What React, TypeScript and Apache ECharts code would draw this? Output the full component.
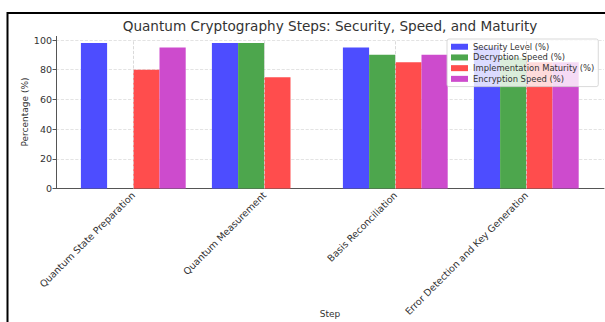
import React, { useEffect, useRef } from "react";
import * as echarts from "echarts";

const categories = [
  "Quantum State Preparation",
  "Quantum Measurement",
  "Basis Reconciliation",
  "Error Detection and Key Generation",
];
const securityLevel = [98, 98, 95, 95];
const decryptionSpeed: (number | string)[] = ["-", 98, 90, 88];
const implementationMaturity = [80, 75, 85, 85];
const encryptionSpeed: (number | string)[] = [95, "-", 90, 85];
const seriesNames = [
  "Security Level (%)",
  "Decryption Speed (%)",
  "Implementation Maturity (%)",
  "Encryption Speed (%)",
];
const seriesColors = ["#4d4dff", "#4da64d", "#ff4d4d", "#cd4bcd"];
const yMin = 0;
const yMax = 100;
const yInterval = 20;

const FONT = "DejaVu Sans";
const FONT_STACK = "'DejaVu Sans', 'Liberation Sans', sans-serif";

export default function App() {
  const ref = useRef<HTMLDivElement>(null);
  useEffect(() => {
    if (!ref.current) return;
    const chart = echarts.init(ref.current, undefined, { renderer: "svg" });
    const values = [securityLevel, decryptionSpeed, implementationMaturity, encryptionSpeed];
    const gridTop = 40;
    const gridHeight = 148.5;
    const barSeries = seriesNames.map((name, i) => ({
      name,
      type: "bar",
      xAxisIndex: 0,
      yAxisIndex: 0,
      z: 3,
      data: values[i],
      barWidth: 26.2,
      barGap: "0%",
      itemStyle: { color: seriesColors[i] },
    }));
    chart.setOption({
      animation: false,
      backgroundColor: "#fff",
      textStyle: { fontFamily: FONT_STACK },
      grid: [
        { left: 67.8, width: 524, top: gridTop, height: gridHeight },
        { left: 56, width: 548, top: gridTop, height: gridHeight },
      ],
      xAxis: [
        {
          gridIndex: 0,
          type: "category",
          data: categories,
          axisLine: { show: false },
          axisTick: { show: false },
          splitLine: { show: false },
          axisLabel: {
            interval: 0,
            rotate: 45,
            fontSize: 9.5,
            margin: 5,
            color: "#333",
            fontFamily: FONT_STACK,
          },
        },
        {
          gridIndex: 1,
          type: "value",
          min: 0,
          max: 1,
          axisLine: { show: true, lineStyle: { color: "#555", width: 1 } },
          axisTick: { show: false },
          axisLabel: { show: false },
          splitLine: { show: false },
        },
      ],
      yAxis: [
        { gridIndex: 0, type: "value", min: yMin, max: yMax, show: false },
        {
          gridIndex: 1,
          type: "value",
          min: yMin,
          max: yMax,
          interval: yInterval,
          axisLine: { show: true, lineStyle: { color: "#555", width: 1 } },
          axisTick: { show: true, length: 3.5, lineStyle: { color: "#555" } },
          axisLabel: { fontSize: 9.5, color: "#333", margin: 4, fontFamily: FONT_STACK },
          splitLine: {
            show: true,
            lineStyle: { type: "dashed", color: "#dcdcdc", width: 0.8 },
          },
        },
      ],
      legend: {
        orient: "vertical",
        left: 447,
        top: 39,
        data: seriesNames,
        icon: "rect",
        itemWidth: 17,
        itemHeight: 6,
        itemGap: 1.2,
        padding: [3, 4, 3, 4],
        backgroundColor: "rgba(255,255,255,0.8)",
        borderColor: "#cfcfcf",
        borderWidth: 0.8,
        borderRadius: 2,
        textStyle: {
          fontSize: 8.4,
          lineHeight: 9.5,
          color: "#333",
          fontFamily: FONT_STACK,
          fontWeight: "normal",
        },
      },
      graphic: [
        {
          type: "rect",
          shape: { x: 7.5, y: 13, width: 700, height: 400 },
          style: { fill: "none", stroke: "#000", lineWidth: 2 },
          silent: true,
        },
        {
          type: "line",
          shape: { x1: 56.5, y1: 36, x2: 56.5, y2: 40 },
          style: { stroke: "#555", lineWidth: 1 },
          silent: true,
        },
        {
          type: "text",
          x: 330,
          y: 26,
          style: {
            text: "Quantum Cryptography Steps: Security, Speed, and Maturity",
            textAlign: "center",
            textVerticalAlign: "middle",
            font: `13.6px '${FONT}'`,
            fill: "#333",
          },
        },
        {
          type: "text",
          x: 25,
          y: 112,
          rotation: Math.PI / 2,
          style: {
            text: "Percentage (%)",
            textAlign: "center",
            textVerticalAlign: "middle",
            font: `9px '${FONT}'`,
            fill: "#333",
          },
        },
        {
          type: "text",
          x: 330,
          y: 314,
          style: {
            text: "Step",
            textAlign: "center",
            textVerticalAlign: "middle",
            font: `9px '${FONT}'`,
            fill: "#333",
          },
        },
      ],
      series: [
        {
          name: "grid-x",
          type: "line",
          xAxisIndex: 0,
          yAxisIndex: 0,
          data: [],
          z: 1,
          markLine: {
            silent: true,
            symbol: "none",
            label: { show: false },
            lineStyle: { type: "dashed", color: "#d0d0d0", width: 0.8 },
            data: categories.map((c) => ({ xAxis: c })),
          },
        },
        ...barSeries,
      ],
    });
    return () => chart.dispose();
  }, []);
  return (
    <div
      ref={ref}
      style={{ position: "fixed", left: 0, top: 0, width: 605, height: 322 }}
    />
  );
}
